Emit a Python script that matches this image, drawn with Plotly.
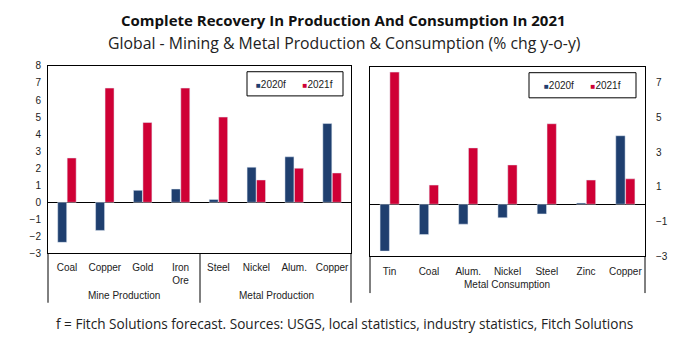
import plotly.graph_objects as go

W, H = 687, 359

# ---- data ----
left_cats = ["Coal", "Copper", "Gold", "Iron<br>Ore", "Steel", "Nickel", "Alum.", "Copper"]
left_2020 = [-2.35, -1.65, 0.7, 0.78, 0.17, 2.06, 2.67, 4.62]
left_2021 = [2.6, 6.7, 4.68, 6.7, 5.0, 1.31, 2.0, 1.72]
left_groups = ["Mine Production", "Metal Production"]

right_cats = ["Tin", "Coal", "Alum.", "Nickel", "Steel", "Zinc", "Copper"]
right_2020 = [-2.7, -1.75, -1.15, -0.78, -0.56, 0.07, 3.94]
right_2021 = [7.6, 1.1, 3.24, 2.26, 4.63, 1.39, 1.46]
right_group = "Metal Consumption"

series_names = ["2020f", "2021f"]
left_yticks = list(range(-3, 9))
right_yticks = [-3, -1, 1, 3, 5, 7]

BLUE = "#1F3F6F"
RED = "#CF0035"
AXFONT = "Liberation Sans, Arial, sans-serif"
TFONT = "Open Sans, sans-serif"


def px(x):
    return x / W


def py(y):
    return 1 - y / H


fig = go.Figure()
lx = list(range(len(left_cats)))
rx = list(range(len(right_cats)))
fig.add_trace(go.Bar(x=lx, y=left_2020, name=series_names[0], marker_color=BLUE,
                     xaxis="x", yaxis="y", showlegend=False))
fig.add_trace(go.Bar(x=lx, y=left_2021, name=series_names[1], marker_color=RED,
                     xaxis="x", yaxis="y", showlegend=False))
fig.add_trace(go.Bar(x=rx, y=right_2020, name=series_names[0], marker_color=BLUE,
                     xaxis="x2", yaxis="y2", showlegend=False))
fig.add_trace(go.Bar(x=rx, y=right_2021, name=series_names[1], marker_color=RED,
                     xaxis="x2", yaxis="y2", showlegend=False))

axcommon = dict(showline=True, linecolor="black", linewidth=1, mirror=True,
                showgrid=False, ticks="", tickfont=dict(family=AXFONT, size=10, color="#222"))

fig.update_layout(
    width=W, height=H, margin=dict(l=0, r=0, t=0, b=0),
    paper_bgcolor="white", plot_bgcolor="white",
    barmode="group", bargap=0.5, bargroupgap=0.05,
    showlegend=False,
    xaxis=dict(domain=[px(48), px(351)], range=[-0.5, len(left_cats) - 0.5],
               tickvals=lx, ticktext=left_cats, anchor="y", zeroline=False,
               ticklabelstandoff=5, **axcommon),
    yaxis=dict(domain=[py(256), py(62)], range=[-3, 8], tickvals=left_yticks,
               anchor="x", zeroline=True, zerolinecolor="black", zerolinewidth=1,
               ticklabelstandoff=4, **axcommon),
    xaxis2=dict(domain=[px(370), px(645)], range=[-0.5, len(right_cats) - 0.5],
                tickvals=rx, ticktext=right_cats, anchor="y2", zeroline=False,
                ticklabelstandoff=6, **axcommon),
    yaxis2=dict(domain=[py(259), py(63)], range=[-3, 7.9], tickvals=right_yticks,
                anchor="x2", side="right", zeroline=True, zerolinecolor="black",
                zerolinewidth=1, ticklabelstandoff=8, **axcommon),
)

shapes = []
for x in (48, 200, 351):
    shapes.append(dict(type="line", xref="paper", yref="paper", x0=px(x), x1=px(x),
                       y0=py(256), y1=py(307), line=dict(color="black", width=1)))
for x in (370, 645):
    shapes.append(dict(type="line", xref="paper", yref="paper", x0=px(x), x1=px(x),
                       y0=py(259), y1=py(297), line=dict(color="black", width=1)))
# legend boxes
for (x0, y0, x1, y1) in [(247, 68, 343, 93), (529, 69, 636, 95)]:
    shapes.append(dict(type="rect", xref="paper", yref="paper", x0=px(x0), x1=px(x1),
                       y0=py(y0), y1=py(y1), line=dict(color="black", width=1),
                       fillcolor="white", layer="above"))
fig.update_layout(shapes=shapes)


def note(text, x, y, size, family=AXFONT, color="#222"):
    return dict(text=text, x=px(x), y=py(y), xref="paper", yref="paper",
                xanchor="center", yanchor="middle", showarrow=False,
                font=dict(family=family, size=size, color=color))


ann = [
    note("<b>Complete Recovery In Production And Consumption In 2021</b>", 343, 14, 15, TFONT, "#111"),
    note("Global - Mining & Metal Production & Consumption (% chg y-o-y)", 344, 38, 15.8, TFONT),
    note("f = Fitch Solutions forecast. Sources: USGS, local statistics, industry statistics, Fitch Solutions",
         344, 328, 13.6, TFONT),
]
for name, cx in zip(left_groups, (124, 276)):
    ann.append(note(name, cx, 299, 10))
ann.append(note(right_group, 507, 288, 10))


def legend_text(size):
    return (f"<span style='color:{BLUE};font-size:{size}px'>■</span>{series_names[0]}"
            f"&nbsp;&nbsp;&nbsp;&nbsp;&nbsp;&nbsp;<span style='color:{RED};font-size:{size}px'>■</span>{series_names[1]}")


for cx, cy in [(294, 81), (582, 82)]:
    ann.append(note(legend_text(8), cx, cy, 10))
fig.update_layout(annotations=ann)

fig.write_html("out.html", config={"displayModeBar": False},
               post_script="document.body.style.margin='0px';")
